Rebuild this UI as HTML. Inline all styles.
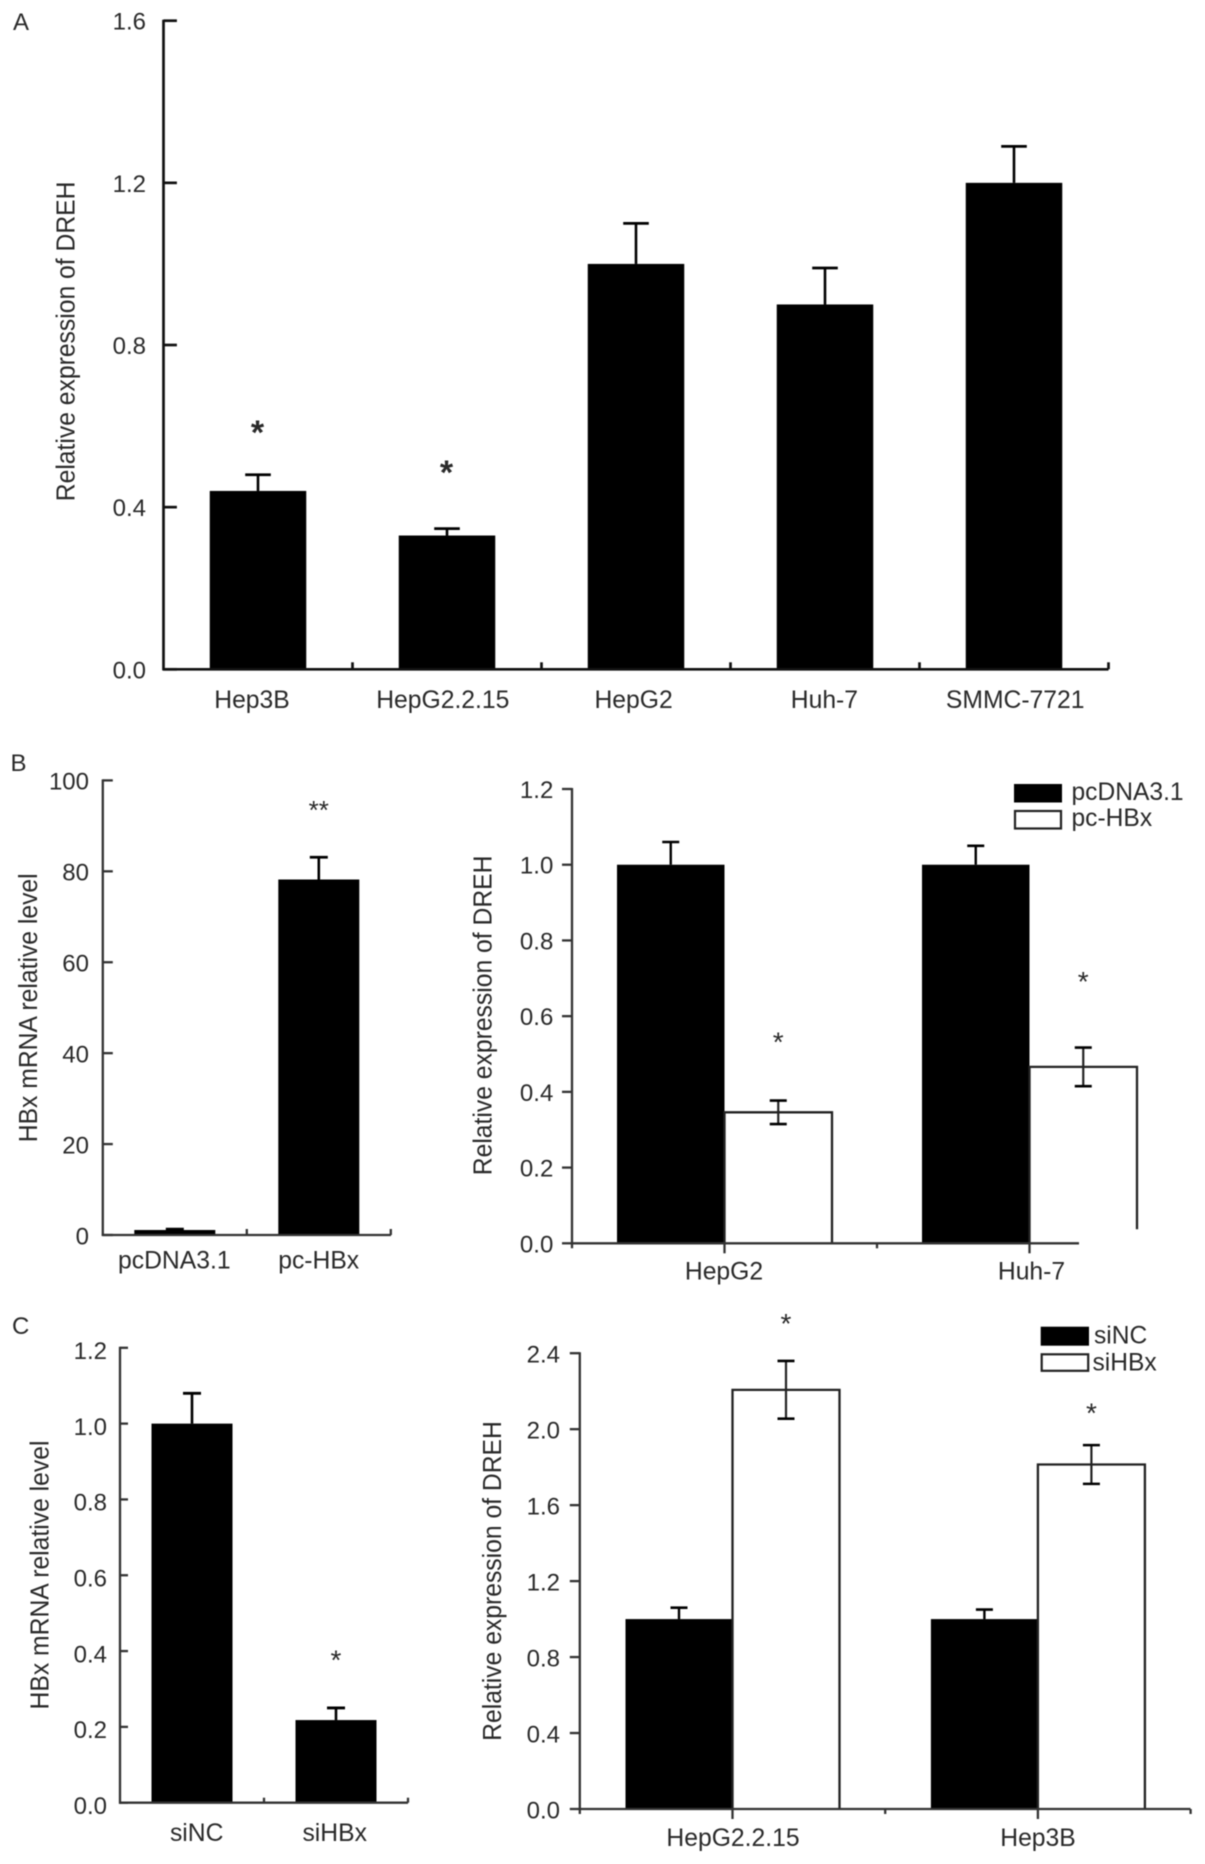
<!DOCTYPE html>
<html lang="en">
<head>
<meta charset="utf-8">
<title>DREH expression bar charts</title>
<style>
  html, body { margin: 0; padding: 0; background: #fff; }
  body { width: 1205px; height: 1864px; overflow: hidden; }
  svg { display: block; filter: blur(0.55px); }
  text { font-family: "Liberation Sans", sans-serif; fill: #2a2a2a; }
</style>
</head>
<body>
<svg id="figure" xmlns="http://www.w3.org/2000/svg" width="1205" height="1864" viewBox="0 0 1205 1864">
  <rect x="0" y="0" width="1205" height="1864" fill="#fff"/>
  <text font-size="24" x="13" y="30">A</text>
  <text font-size="24" x="10.5" y="771">B</text>
  <text font-size="24" x="12" y="1334">C</text>

  <g>
    <rect x="1014" y="784" width="48" height="18.5" fill="#000"/>
    <rect x="1015" y="811" width="46" height="17.5" fill="#fff" stroke="#222" stroke-width="2.2"/>
    <text font-size="24.6" x="1071.5" y="800">pcDNA3.1</text>
    <text font-size="24.6" x="1071.5" y="826">pc-HBx</text>
  </g>
  <g>
    <rect x="1040.7" y="1326.7" width="48.3" height="19" fill="#000"/>
    <rect x="1041.7" y="1354.3" width="46.5" height="16.5" fill="#fff" stroke="#222" stroke-width="2.2"/>
    <text font-size="24.6" x="1094" y="1343.3">siNC</text>
    <text font-size="24.6" x="1092.5" y="1370.3">siHBx</text>
  </g>
</svg>
<script>
// Panel A
const aCategories = ['Hep3B', 'HepG2.2.15', 'HepG2', 'Huh-7', 'SMMC-7721'];
const aValues = [0.44, 0.33, 1.0, 0.9, 1.2];
const aErrors = [0.04, 0.017, 0.10, 0.09, 0.09];
const aStars = ['*', '*', '', '', ''];
const aStarLevels = [0.598, 0.499, null, null, null];
const aTicks = ['0.0', '0.4', '0.8', '1.2', '1.6'];

// Panel B left
const bLeftCategories = ['pcDNA3.1', 'pc-HBx'];
const bLeftValues = [1.1, 78.2];
const bLeftErrors = [0.2, 4.9];
const bLeftStars = ['', '**'];
const bLeftStarLevels = [null, 94.2];
const bLeftTicks = ['0', '20', '40', '60', '80', '100'];

// Panel B right
const bRightCategories = ['HepG2', 'Huh-7'];
const bRightControl = [1.0, 1.0];
const bRightControlErrors = [0.06, 0.05];
const bRightTreated = [0.346, 0.466];
const bRightTreatedErrors = [0.031, 0.051];
const bRightStarLevels = [0.542, 0.702];
const bRightTicks = ['0.0', '0.2', '0.4', '0.6', '0.8', '1.0', '1.2'];

// Panel C left
const cLeftCategories = ['siNC', 'siHBx'];
const cLeftValues = [1.0, 0.218];
const cLeftErrors = [0.08, 0.032];
const cLeftStars = ['', '*'];
const cLeftStarLevels = [null, 0.387];
const cLeftTicks = ['0.0', '0.2', '0.4', '0.6', '0.8', '1.0', '1.2'];

// Panel C right
const cRightCategories = ['HepG2.2.15', 'Hep3B'];
const cRightControl = [1.0, 1.0];
const cRightControlErrors = [0.06, 0.05];
const cRightTreated = [2.207, 1.814];
const cRightTreatedErrors = [0.152, 0.102];
const cRightStarLevels = [2.576, 2.106];
const cRightTicks = ['0.0', '0.4', '0.8', '1.2', '1.6', '2.0', '2.4'];

const NS = 'http://www.w3.org/2000/svg';
const figure = document.getElementById('figure');

function mk(tag, parent, attrs) {
  const el = document.createElementNS(NS, tag);
  for (const k in attrs) el.setAttribute(k, attrs[k]);
  parent.appendChild(el);
  return el;
}
function line(parent, x1, y1, x2, y2, w, color) {
  return mk('line', parent, { x1: x1, y1: y1, x2: x2, y2: y2, stroke: color || '#000', 'stroke-width': w || 2.5 });
}
function label(parent, str, x, y, anchor, size) {
  const t = mk('text', parent, { x: x, y: y, 'font-size': size, 'text-anchor': anchor });
  t.textContent = str;
  return t;
}
function scales(L) {
  return {
    y: function (v) { return L.bottom - (v / L.yMax) * (L.bottom - L.top); },
    cx: function (i) { return L.left + (i + 0.5) * L.catWidth; }
  };
}

function drawAxes(g, L, S, tickLabels, categories) {
  const yAxis = line(g, L.left, L.top - 1, L.left, L.bottom + L.axisExtend, L.axisWidth, L.axisColor);
  
  
  const xAxis = line(g, L.left - 1, L.bottom, L.right, L.bottom, L.axisWidth, L.axisColor);
  
  

  tickLabels.forEach(function (txt) {
    const y = S.y(parseFloat(txt));
    const tick = line(g, L.left, y, L.left + L.yTick, y, L.axisWidth, L.axisColor);
    
    
    const t = label(g, txt, L.tickRight, y + L.tickDy, 'end', 24);
    
    
  });

  const step = L.grouped ? L.catWidth / 2 : L.catWidth;
  let k = 1;
  for (let x = L.left + step; x <= L.right + 1; x += step) {
    const len = (L.grouped && k % 2 === 0) ? L.xTick * 0.5 : L.xTick;
    const tick = line(g, x, L.bottom, x, L.bottom + len, L.axisWidth, L.axisColor);
    
    
    k += 1;
  }

  categories.forEach(function (c, i) {
    const t = label(g, c, L.labelX0 + i * L.labelStep, L.labelY, 'middle', 24.7);
    
    
  });

  const title = mk('text', g, {
    'font-size': 24.7,
    'text-anchor': 'middle',
    transform: 'translate(' + L.titleX + ',' + L.titleY + ') rotate(-90) scale(1,1.06)'
  });
  title.textContent = L.title;
  
  
}

function drawStar(g, str, x, level, S, size, weight) {
  const t = mk('text', g, {
    x: x,
    y: S.y(level) + size * 0.57 - 2.5,
    'font-size': size,
    'font-weight': weight,
    'text-anchor': 'middle'
  });
  t.textContent = str;
  
  
}

function drawSimple(name, L, categories, values, errors, stars, starLevels, tickLabels) {
  const g = mk('g', figure, {});
  
  
  const S = scales(L);
  values.forEach(function (v, i) {
    const cx = S.cx(i);
    const top = S.y(v);
    const whisker = line(g, cx, S.y(v + errors[i]), cx, top, 2.6);
    
    
    const cap = line(g, cx - L.cap, S.y(v + errors[i]), cx + L.cap, S.y(v + errors[i]), 2.8);
    
    
    const bar = mk('rect', g, { x: cx - L.barWidth / 2, y: top, width: L.barWidth, height: L.bottom - top, fill: '#000' });
    
    
    if (starLevels[i] !== null) drawStar(g, stars[i], cx + L.starShift, starLevels[i], S, L.starSize, L.starWeight);
  });
  drawAxes(g, L, S, tickLabels, categories);
}

function drawGrouped(name, L, categories, control, controlErr, treated, treatedErr, starLevels, tickLabels) {
  const g = mk('g', figure, {});
  
  
  const S = scales(L);
  categories.forEach(function (c, i) {
    const cx = S.cx(i);
    const blackLeft = cx - L.barWidth;
    const blackMid = cx - L.barWidth / 2;
    const blackTop = S.y(control[i]);
    const upper = S.y(control[i] + controlErr[i]);
    const w1 = line(g, blackMid, upper, blackMid, blackTop, 2.4);
    
    
    const c1 = line(g, blackMid - L.cap, upper, blackMid + L.cap, upper, 2.6);
    
    
    const black = mk('rect', g, { x: blackLeft, y: blackTop, width: L.barWidth, height: L.bottom - blackTop, fill: '#000' });
    
    

    const whiteTop = S.y(treated[i]);
    const whiteRight = cx + L.barWidth;
    const rightBottom = whiteRight > L.right ? L.bottom - 14 : L.bottom;
    const white = mk('path', g, {
      d: 'M' + cx + ' ' + L.bottom + 'V' + whiteTop + 'H' + whiteRight + 'V' + rightBottom,
      fill: 'none', stroke: '#222', 'stroke-width': 2.3
    });
    
    

    const whiteMid = cx + L.barWidth / 2;
    const hi = S.y(treated[i] + treatedErr[i]);
    const lo = S.y(treated[i] - treatedErr[i]);
    const w2 = line(g, whiteMid, hi, whiteMid, lo, 2.2, '#222');
    
    
    const c2 = line(g, whiteMid - L.cap, hi, whiteMid + L.cap, hi, 2.6);
    
    
    const c3 = line(g, whiteMid - L.cap, lo, whiteMid + L.cap, lo, 2.6);
    
    

    drawStar(g, '*', whiteMid, starLevels[i], S, L.starSize, L.starWeight);
  });
  drawAxes(g, L, S, tickLabels, categories);
}

drawSimple('panel-a-chart', {
  left: 163.5, right: 1108.5, top: 20.7, bottom: 669.3, yMax: 1.6, catWidth: 189, barWidth: 96.5,
  cap: 12.8, yTick: 13.4, xTick: -7, tickRight: 146, tickDy: 9, labelY: 708, labelX0: 252, labelStep: 190.8,
  axisWidth: 2.7, axisColor: '#111', axisExtend: 1, starShift: -0.5,
  title: 'Relative expression of DREH', titleX: 74.5, titleY: 341.4, starSize: 34, starWeight: 'bold'
}, aCategories, aValues, aErrors, aStars, aStarLevels, aTicks);

drawSimple('panel-b-left-chart', {
  left: 102.8, right: 391, top: 780.4, bottom: 1235, yMax: 100, catWidth: 144, barWidth: 81,
  cap: 9, yTick: 10, xTick: -6, tickRight: 89, tickDy: 9.3, labelY: 1268.3, labelX0: 174.3, labelStep: 144.4,
  axisWidth: 2.3, axisColor: '#333', axisExtend: 1, starShift: 0,
  title: 'HBx mRNA relative level', titleX: 36.9, titleY: 1007.8, starSize: 26, starWeight: 'normal'
}, bLeftCategories, bLeftValues, bLeftErrors, bLeftStars, bLeftStarLevels, bLeftTicks);

drawGrouped('panel-b-right-chart', {
  left: 572, right: 1079, top: 789, bottom: 1243.3, yMax: 1.2, catWidth: 305, barWidth: 107.5,
  cap: 8.5, yTick: -10, xTick: 10, tickRight: 553.3, tickDy: 9, labelY: 1279.3, labelX0: 724, labelStep: 307.5,
  axisWidth: 2.3, axisColor: '#333', axisExtend: 5, grouped: true,
  title: 'Relative expression of DREH', titleX: 491.5, titleY: 1015.4, starSize: 28, starWeight: 'normal'
}, bRightCategories, bRightControl, bRightControlErrors, bRightTreated, bRightTreatedErrors, bRightStarLevels, bRightTicks);

drawSimple('panel-c-left-chart', {
  left: 120, right: 408, top: 1347.8, bottom: 1802.7, yMax: 1.2, catWidth: 144, barWidth: 81,
  cap: 9, yTick: 8, xTick: -5, tickRight: 107, tickDy: 11.3, labelY: 1841, labelX0: 196.7, labelStep: 138,
  axisWidth: 2.3, axisColor: '#333', axisExtend: 1, starShift: 0,
  title: 'HBx mRNA relative level', titleX: 48.4, titleY: 1575, starSize: 28, starWeight: 'normal'
}, cLeftCategories, cLeftValues, cLeftErrors, cLeftStars, cLeftStarLevels, cLeftTicks);

drawGrouped('panel-c-right-chart', {
  left: 579.8, right: 1190.5, top: 1353.2, bottom: 1809, yMax: 2.4, catWidth: 305.4, barWidth: 107,
  cap: 8.5, yTick: -10, xTick: 10, tickRight: 560, tickDy: 9.3, labelY: 1846, labelX0: 733, labelStep: 305,
  axisWidth: 2.3, axisColor: '#333', axisExtend: 5, grouped: true,
  title: 'Relative expression of DREH', titleX: 500.8, titleY: 1581, starSize: 28, starWeight: 'normal'
}, cRightCategories, cRightControl, cRightControlErrors, cRightTreated, cRightTreatedErrors, cRightStarLevels, cRightTicks);
</script>
</body>
</html>
